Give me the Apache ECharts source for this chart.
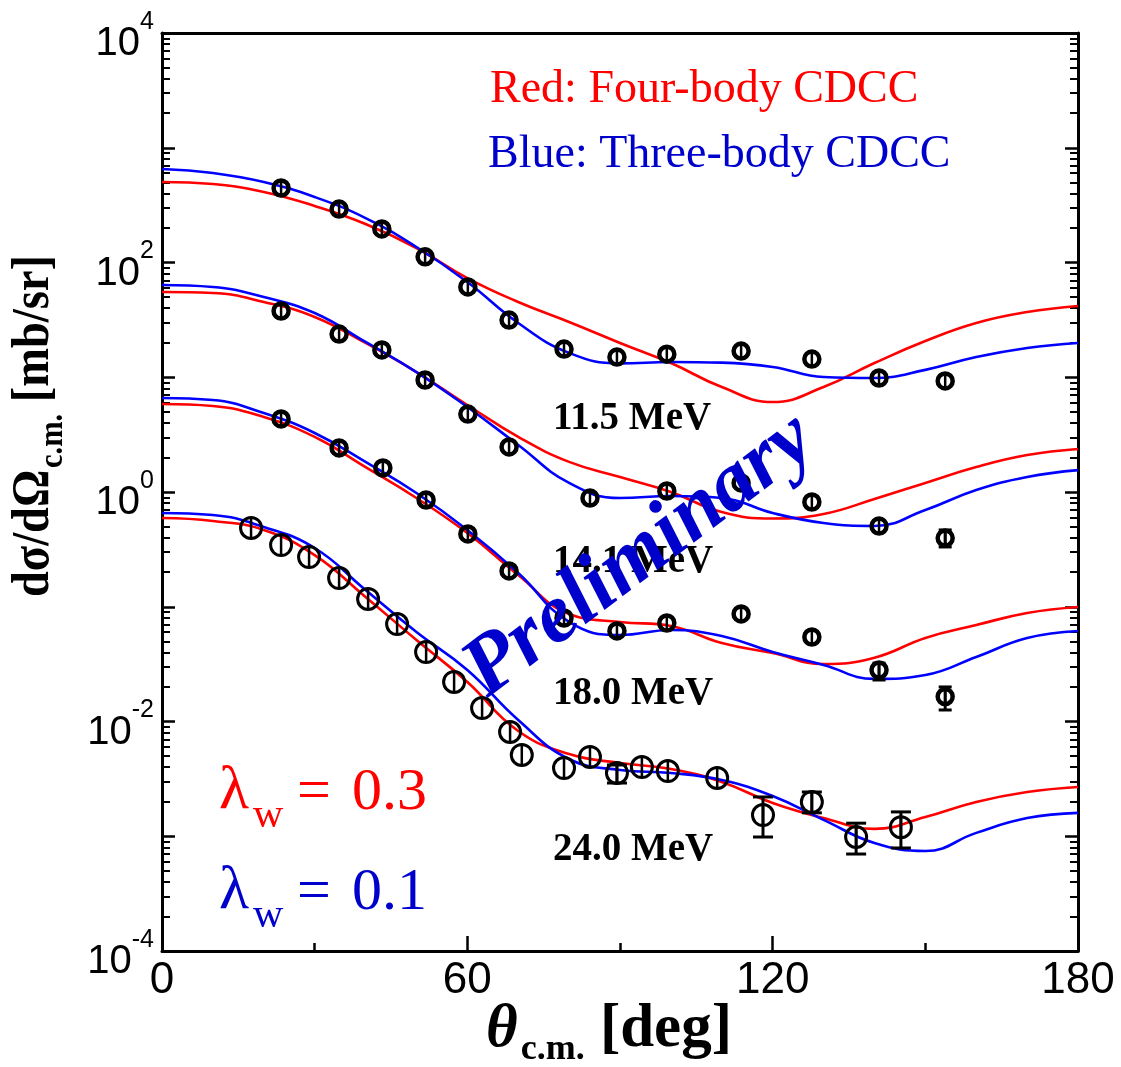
<!DOCTYPE html>
<html><head><meta charset="utf-8">
<script src="https://cdn.jsdelivr.net/npm/echarts/dist/echarts.min.js"></script>
<style>html,body{margin:0;padding:0;background:#fff;}#c{width:1121px;height:1067px;}</style>
</head><body><div id="c"></div>
<script>
// ---------- data ----------
const curveTheta = [0,10,20,30,40,50,60,70,80,90,100,110,120,130,140,150,160,170,180];

const red11_5  = [503,483,412,311,216.5,133.8,73.2,45.3,30.3,19.9,13.3,8.22,6.08,8.22,13.3,20.7,29.7,37.0,41.8];
const blue11_5 = [653,603,503,372,244,136.5,67.6,29.7,16.3,13.2,13.6,13.4,12.3,10.05,9.85,11.6,15.0,18.0,19.9];
const red14_1  = [55.3,54.2,45.3,33.5,19.9,11.1,5.73,3.02,1.83,1.35,1.0,0.669,0.587,0.643,0.869,1.20,1.65,2.10,2.37];
const blue14_1 = [63.7,61.2,50.0,36.3,20.3,11.1,5.51,2.57,1.20,0.887,0.923,0.887,0.656,0.537,0.506,0.697,1.04,1.35,1.55];
const red18_0  = [5.85,5.62,4.50,3.02,1.65,0.887,0.439,0.189,0.0865,0.0737,0.0680,0.0483,0.0395,0.0317,0.036,0.0535,0.0693,0.0882,0.0995];
const blue18_0 = [6.60,6.34,4.88,3.27,1.83,0.980,0.467,0.197,0.0737,0.0567,0.0627,0.0556,0.0403,0.0311,0.0235,0.0254,0.0365,0.0534,0.0615];
const red24_0  = [0.593,0.559,0.467,0.282,0.1216,0.0513,0.0221,0.00827,0.00521,0.00435,0.00386,0.00297,0.00195,0.00144,0.00116,0.00147,0.00199,0.00243,0.00269];
const blue24_0 = [0.656,0.630,0.495,0.325,0.140,0.0603,0.0281,0.0103,0.00471,0.00378,0.00356,0.00309,0.00224,0.00139,0.000873,0.000744,0.00107,0.00144,0.00160];

const exp11_5_theta = [23.4,34.8,43.2,51.7,60.1,68.2,79.0,89.4,99.2,113.8,127.7,140.9,153.9];
const exp11_5_val   = [446,292,196,112,61.2,31.5,17.6,15.0,15.9,16.9,14.4,9.85,9.28];
const exp14_1_theta = [23.4,34.8,43.2,51.7,60.1,68.2,84.1,99.2,113.8,127.7,140.9,153.9];
const exp14_1_val   = [37.8,23.8,17.3,9.46,4.78,2.47,0.886,1.02,1.20,0.818,0.505,0.397];
const exp18_0_theta = [23.4,34.8,43.4,51.9,60.1,68.2,79.0,89.4,99.2,113.8,127.7,140.9,153.9];
const exp18_0_val   = [4.33,2.42,1.62,0.852,0.431,0.205,0.0798,0.0615,0.0722,0.0865,0.0545,0.0281,0.0165];
const exp24_0_theta = [17.5,23.4,28.9,34.8,40.5,46.2,51.9,57.4,62.9,68.4,70.7,79.0,84.1,89.4,94.3,99.4,109.1,118.1,127.7,136.4,145.2];
const exp24_0_val   = [0.486,0.345,0.271,0.178,0.117,0.0707,0.0403,0.0221,0.0131,0.0081,0.00511,0.00393,0.00491,0.00356,0.00401,0.00370,0.00322,0.00153,0.00199,0.000985,0.00120];

const err14_1_theta = [153.9];
const err14_1_lo    = [0.332];
const err14_1_hi    = [0.467];
const err18_0_theta = [140.9,153.9];
const err18_0_lo    = [0.0230,0.0126];
const err18_0_hi    = [0.0323,0.0200];
const err24_0_theta = [89.4,118.1,127.7,136.4,145.2];
const err24_0_lo    = [0.00291,0.000985,0.00160,0.000700,0.000790];
const err24_0_hi    = [0.00418,0.00220,0.00243,0.00130,0.00163];

const energyLabels = ['11.5 MeV','14.1 MeV','18.0 MeV','24.0 MeV'];
const xTickValues = [0,60,120,180];
const yLabelExponents = [-4,-2,0,2,4];

// ---------- chart ----------
const RED = '#ff0000', BLUE = '#0000ff', BLUE_TXT = '#0000cc';
const SERIF = '"Liberation Serif","Times New Roman",serif';
const SANS = '"Liberation Sans",Arial,sans-serif';
const mctx = document.createElement('canvas').getContext('2d');
function tw(t, font){ mctx.font = font; return mctx.measureText(t).width; }
function fontStr(size, weight, style){ return (style||'normal')+' '+(weight||'normal')+' '+size+'px '+SERIF; }
function txt(x, baseline, text, size, weight, style, color, extra){
  return Object.assign({type:'text', x:x, y:baseline-0.3375*size, silent:true, z:20,
    style:{text:text, font:fontStr(size,weight,style), fill:color, textAlign:'left', textVerticalAlign:'middle'}}, extra||{});
}

function curve(vals, color){
  return {type:'line', data:curveTheta.map((t,i)=>[t, vals[i]]), showSymbol:false, smooth:0.45,
    lineStyle:{color:color, width:2.6}, itemStyle:{color:color}, z:3, silent:true};
}
function points(theta, vals, size, bw){
  const d = theta.map((t,i)=>[t, vals[i]]);
  return [
    {type:'scatter', data:d, symbol:'circle', symbolSize:size, silent:true, z:6,
     itemStyle:{color:'rgba(255,255,255,0)', borderColor:'#000', borderWidth:bw, opacity:1}},
    {type:'scatter', data:d, symbol:'rect', symbolSize:[2.5, size], silent:true, z:6,
     itemStyle:{color:'#000', opacity:1}}
  ];
}
function errbars(theta, lo, hi, capW){
  return {type:'custom', data:theta.map((t,i)=>[t, lo[i], hi[i]]), silent:true, z:7,
    encode:{x:0, y:[1,2]},
    renderItem:function(params, api){
      const a = api.coord([api.value(0), api.value(1)]);
      const b = api.coord([api.value(0), api.value(2)]);
      const st = {stroke:'#000', lineWidth:3};
      return {type:'group', children:[
        {type:'line', shape:{x1:a[0],y1:a[1],x2:b[0],y2:b[1]}, style:st},
        {type:'line', shape:{x1:a[0]-capW/2,y1:a[1],x2:a[0]+capW/2,y2:a[1]}, style:st},
        {type:'line', shape:{x1:b[0]-capW/2,y1:b[1],x2:b[0]+capW/2,y2:b[1]}, style:st}
      ]};
    }};
}

function makeYAxis(pos, withLabels){
  const ax = {
    type:'log', logBase:10, min:1e-4, max:1e4, position:pos,
    axisLine:{show:true, onZero:false, lineStyle:{color:'#000', width:3}},
    axisTick:{show:true, inside:true, length:13, lineStyle:{color:'#000', width:2.5}},
    minorTick:{show:true, splitNumber:9, length:8, lineStyle:{color:'#000', width:2}},
    splitLine:{show:false}, minorSplitLine:{show:false}
  };
  if (withLabels) {
    ax.axisLabel = {show:true, margin:8, padding:[22,0,0,0],
      formatter:v=>{ const e = Math.round(Math.log10(v)); return yLabelExponents.includes(e) ? '{b|10}{e|'+e+'}' : ''; },
      rich:{
        b:{fontSize:40, fontFamily:SANS, color:'#000', lineHeight:69},
        e:{fontSize:25, fontFamily:SANS, color:'#000', lineHeight:27, verticalAlign:'top'}
      }};
  } else {
    ax.axisLabel = {show:false};
  }
  return ax;
}

const series = [
  curve(red11_5, RED), curve(blue11_5, BLUE),
  curve(red14_1, RED), curve(blue14_1, BLUE),
  curve(red18_0, RED), curve(blue18_0, BLUE),
  curve(red24_0, RED), curve(blue24_0, BLUE),
  ...points(exp11_5_theta, exp11_5_val, 15, 4.5),
  ...points(exp14_1_theta, exp14_1_val, 15, 4.5),
  ...points(exp18_0_theta, exp18_0_val, 15, 4.5),
  ...points(exp24_0_theta, exp24_0_val, 21, 3),
  errbars(err14_1_theta, err14_1_lo, err14_1_hi, 13),
  errbars(err18_0_theta, err18_0_lo, err18_0_hi, 13),
  errbars(err24_0_theta, err24_0_lo, err24_0_hi, 20)
];

// ---------- annotations ----------
const graphics = [];
graphics.push(txt(490, 105, 'Red: Four-body CDCC', 46, 'normal', 'normal', RED));
graphics.push(txt(488, 170, 'Blue: Three-body CDCC', 46, 'normal', 'normal', BLUE_TXT));
const eBase = [432, 575, 707, 863];
energyLabels.forEach((s,i)=>graphics.push(txt(553, eBase[i], s, 39, 'bold', 'normal', '#000', {z:8})));

[[813, RED, '0.3'], [913, BLUE_TXT, '0.1']].forEach(([bl, col, v])=>{
  graphics.push(txt(219, bl, 'λ', 62, 'normal', 'normal', col));
  graphics.push(txt(253, bl+17, 'w', 42, 'normal', 'normal', col));
  graphics.push(txt(297, bl, '=', 60, 'normal', 'normal', col));
  graphics.push(txt(352, bl, v, 60, 'normal', 'normal', col));
});

(function(){
  const big = 61, sub = 36;
  const w1 = tw('θ', fontStr(big,'bold','italic'));
  const w2 = tw('c.m.', fontStr(sub,'bold'));
  const w3 = tw(' [deg]', fontStr(big,'bold'));
  const total = w1 + 3 + w2 + w3;
  const x0 = 609 - total/2;
  graphics.push(txt(x0, 1051, 'θ', big, 'bold', 'italic', '#000'));
  graphics.push(txt(x0 + w1 + 3, 1062, 'c.m.', sub, 'bold', 'normal', '#000'));
  graphics.push(txt(x0 + w1 + 3 + w2, 1051, ' [deg]', big, 'bold', 'normal', '#000'));
})();

(function(){
  const big = 52, sub = 34;
  const f1 = fontStr(big,'bold'), f2 = fontStr(sub,'bold');
  const w1 = tw('dσ/dΩ', f1), w2 = tw('c.m.', f2), w3 = tw(' [mb/sr]', f1);
  const total = w1 + 2 + w2 + w3;
  const sc = 342 / total;
  const kids = [
    txt(0, 0, 'dσ/dΩ', big, 'bold', 'normal', '#000'),
    txt(w1 + 2, 13, 'c.m.', sub, 'bold', 'normal', '#000'),
    txt(w1 + 2 + w2, 0, ' [mb/sr]', big, 'bold', 'normal', '#000')
  ];
  graphics.push({type:'group', x:52, y:597, rotation:Math.PI/2, scaleX:sc, scaleY:1, children:kids, z:20});
})();

graphics.push({type:'text', x:640, y:556, rotation:37*Math.PI/180, silent:true, z:50,
  style:{text:'Preliminary', font:fontStr(84,'bold','italic'), fill:BLUE_TXT, textAlign:'center', textVerticalAlign:'middle'}});

const chart = echarts.init(document.getElementById('c'));
chart.setOption({
  animation:false,
  backgroundColor:'#fff',
  grid:{left:162, right:43, top:33, bottom:116},
  xAxis:[{
    type:'value', min:0, max:180, interval:60, position:'bottom',
    axisLine:{show:true, onZero:false, lineStyle:{color:'#000', width:3}},
    axisTick:{show:true, inside:true, length:15, lineStyle:{color:'#000', width:2.5}},
    minorTick:{show:true, splitNumber:2, length:8, lineStyle:{color:'#000', width:2.5}},
    axisLabel:{show:true, margin:8, fontSize:44, fontFamily:SANS, color:'#000',
      formatter:v=> xTickValues.includes(v) ? String(v) : ''},
    splitLine:{show:false}
  },{
    type:'value', min:0, max:180, position:'top', interval:60,
    axisLine:{show:true, onZero:false, lineStyle:{color:'#000', width:3}},
    axisTick:{show:false}, axisLabel:{show:false}, splitLine:{show:false}
  }],
  yAxis:[makeYAxis('left', true), makeYAxis('right', false)],
  series:series,
  graphic:graphics
});
</script></body></html>
